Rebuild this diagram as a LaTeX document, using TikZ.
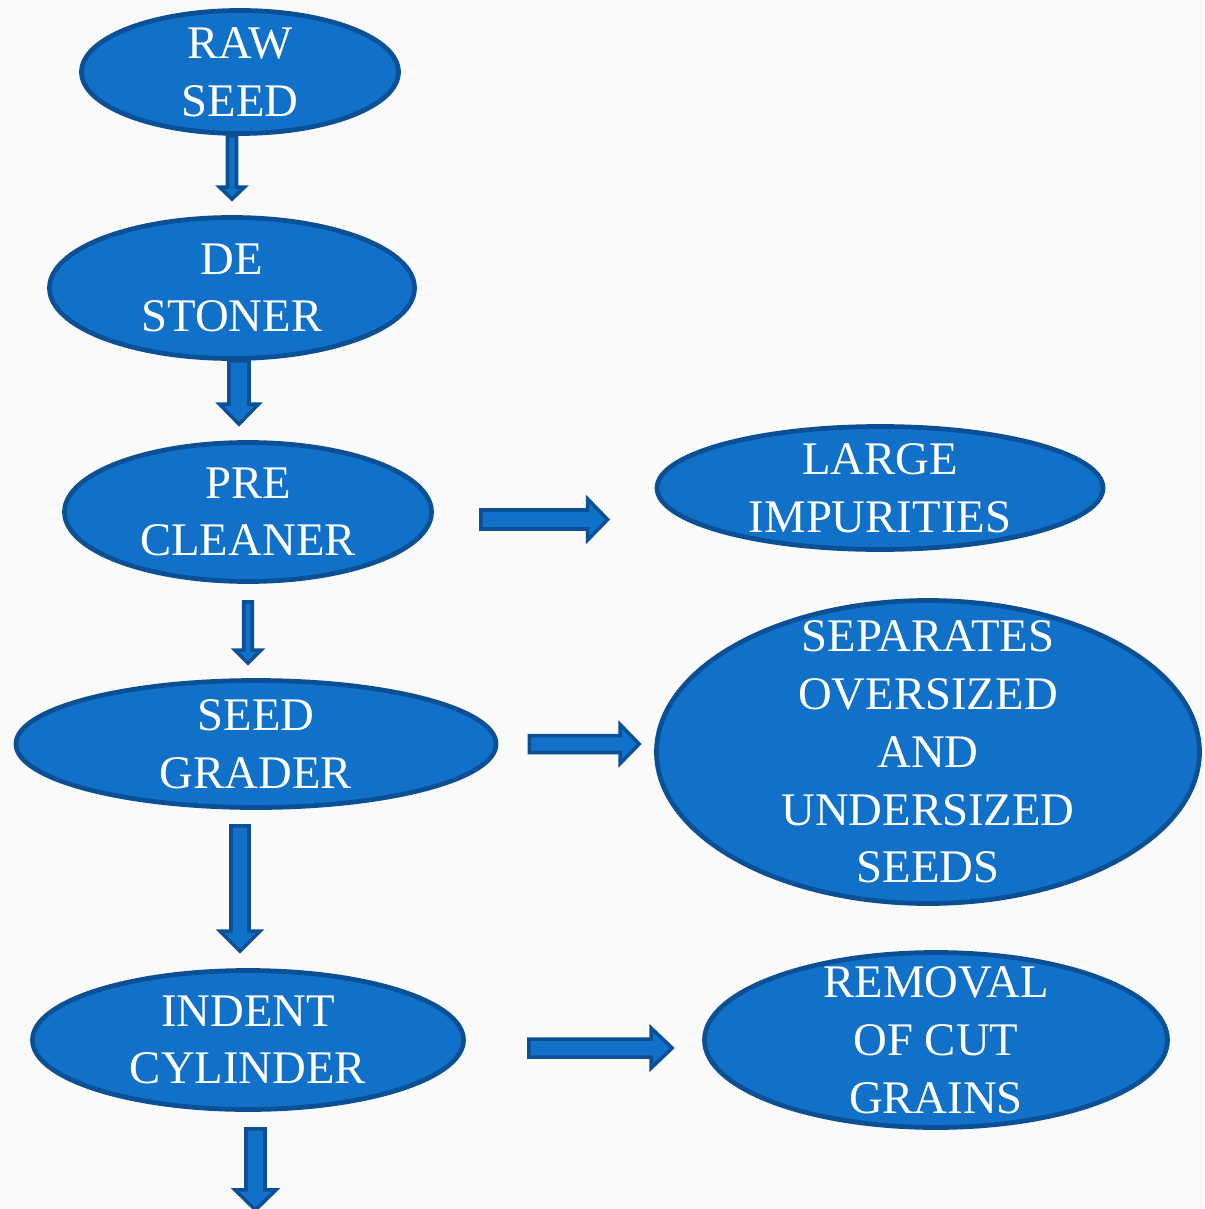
\documentclass[tikz,border=0pt]{standalone}
\usepackage{fontspec}
\setmainfont{Liberation Serif}
\usetikzlibrary{shapes.geometric,calc}
\pgfdeclarelayer{background}
\pgfsetlayers{background,main}
\definecolor{fillblue}{HTML}{1170C8}
\definecolor{edgeblue}{HTML}{0B5094}
\definecolor{paper}{HTML}{FAFAFA}
\newcommand\pxu{0.02cm}
\tikzset{
  stage/.style={ellipse, draw=edgeblue, fill=fillblue, line width=2.7pt, inner sep=0pt},
  lbl/.style={text=white, align=center, inner sep=0pt, font=\fontsize{26.6}{32.9}\selectfont},
  barrow/.style={draw=edgeblue, fill=fillblue, line width=2pt, line join=miter},
}
% #1 start, #2 tip, #3 half shaft, #4 half head, #5 head length (px)
\newcommand\blockarrow[5]{%
  \path ($(#2)!#5*\pxu!(#1)$) coordinate (hb);
  \draw[barrow] ($(#1)!#3*\pxu!90:(#2)$) -- ($(hb)!#3*\pxu!90:(#2)$)
    -- ($(hb)!#4*\pxu!90:(#2)$) -- (#2) -- ($(hb)!#4*\pxu!-90:(#2)$)
    -- ($(hb)!#3*\pxu!-90:(#2)$) -- ($(#1)!#3*\pxu!-90:(#2)$) -- cycle;}
\begin{document}
\begin{tikzpicture}[x=0.02cm, y=-0.02cm]
\useasboundingbox (0,0) rectangle (1204,1209);
\begin{pgfonlayer}{background}
  \fill[paper] (0,0) rectangle (1204,1209);
\end{pgfonlayer}

\node[stage, minimum width=317*\pxu, minimum height=123*\pxu, label={[lbl]center:{RAW\\SEED}}] (raw) at (240,72) {};
\node[stage, minimum width=365*\pxu, minimum height=141*\pxu, label={[lbl]center:{DE\\STONER}}] (de) at (232,288) {};
\node[stage, minimum width=367*\pxu, minimum height=139*\pxu, label={[lbl]center:{PRE\\CLEANER}}] (pre) at (248,512) {};
\node[stage, minimum width=480*\pxu, minimum height=127*\pxu, label={[lbl]center:{SEED\\GRADER}}] (grader) at (256,744) {};
\node[stage, minimum width=431*\pxu, minimum height=139*\pxu, label={[lbl]center:{INDENT\\CYLINDER}}] (indent) at (248,1040) {};
\node[stage, minimum width=446*\pxu, minimum height=123*\pxu, label={[lbl]center:{LARGE\\IMPURITIES}}] (large) at (880,488) {};
\node[stage, minimum width=543*\pxu, minimum height=303*\pxu, label={[lbl]center:{SEPARATES\\OVERSIZED\\AND\\UNDERSIZED\\SEEDS}}] (sep) at (928,752) {};
\node[stage, minimum width=463*\pxu, minimum height=175*\pxu, label={[lbl]center:{REMOVAL\\OF CUT\\GRAINS}}] (removal) at (936,1040) {};

\coordinate (a1s) at ($(raw.south)+(-8,0)$);
\coordinate (a1e) at ($(de.north)+(0,-16)$);
\coordinate (a2s) at ($(de.south)+(7,0)$);
\coordinate (a2e) at ($(pre.north)+(-9,-16)$);
\coordinate (a3s) at ($(pre.east)+(47,7.5)$);
\coordinate (a3e) at ($(large.west)+(-47,31.5)$);
\coordinate (a4s) at ($(pre.south)+(0,18)$);
\coordinate (a4e) at ($(grader.north)+(-8,-15)$);
\coordinate (a5s) at ($(grader.south)+(-16,16)$);
\coordinate (a5e) at ($(indent.north)+(-8,-17)$);
\coordinate (a6s) at ($(grader.east)+(31,0)$);
\coordinate (a6e) at ($(sep.west)+(-15,-8)$);
\coordinate (a7s) at ($(indent.east)+(63,8)$);
\coordinate (a7e) at ($(removal.west)+(-30,8)$);
\coordinate (a8s) at ($(indent.south)+(7.5,17)$);
\coordinate (a8e) at ($(indent.south)+(7.5,98)$);

\begin{pgfonlayer}{background}
  \blockarrow{a1s}{a1e}{4.5}{12.5}{12}
  \blockarrow{a2s}{a2e}{10}{19.5}{20}
  \blockarrow{a3s}{a3e}{9.5}{20.5}{20}
  \blockarrow{a4s}{a4e}{4.25}{13}{13}
  \blockarrow{a5s}{a5e}{9}{20}{20}
  \blockarrow{a6s}{a6e}{8.5}{19.5}{19}
  \blockarrow{a7s}{a7e}{9}{20}{21}
  \blockarrow{a8s}{a8e}{9.5}{20.5}{20}
\end{pgfonlayer}
\end{tikzpicture}
\end{document}
